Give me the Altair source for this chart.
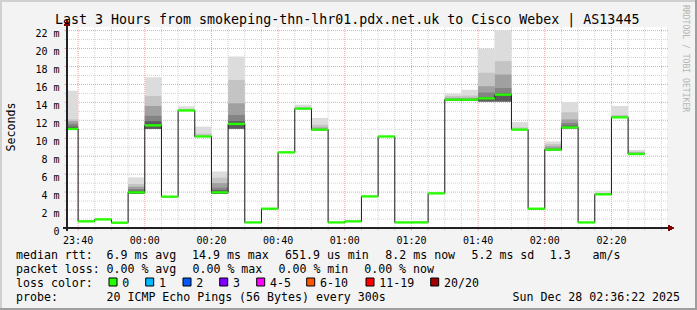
import altair as alt
import pandas as pd

# ---------------- data ----------------
medians = [11.04, 0.74, 0.96, 0.59, 3.97, 11.44, 3.49, 13.1, 10.2, 3.97,
           11.6, 0.62, 2.15, 8.43, 13.3, 10.96, 0.62, 0.74, 3.52, 10.2,
           0.62, 0.62, 3.86, 14.3, 14.3, 14.45, 14.86, 10.96, 2.15, 8.73,
           11.2, 0.62, 3.75, 12.33, 8.25]
smoke_lo = [10.95, 0.74, 0.96, 0.59, 3.82, 11.05, 3.49, 13.1, 10.15, 3.8,
            11.07, 0.62, 2.15, 8.43, 13.3, 10.9, 0.62, 0.74, 3.52, 10.2,
            0.62, 0.62, 3.86, 14.2, 14.2, 14.1, 14.1, 10.96, 2.15, 8.65,
            11.1, 0.62, 3.75, 12.33, 8.25]
smoke_1 = [11.3, 0.74, 0.96, 0.59, 4.15, 11.9, 3.49, 13.1, 10.2, 4.2,
           11.9, 0.62, 2.15, 8.43, 13.3, 10.96, 0.62, 0.74, 3.52, 10.2,
           0.62, 0.62, 3.86, 14.3, 14.3, 14.6, 15.0, 10.96, 2.15, 8.8,
           11.4, 0.62, 3.75, 12.33, 8.25]
smoke_2 = [11.6, 0.74, 0.96, 0.59, 4.35, 12.5, 3.49, 13.1, 10.2, 4.5,
           12.6, 0.62, 2.15, 8.43, 13.3, 11.0, 0.62, 0.74, 3.52, 10.2,
           0.62, 0.62, 3.86, 14.4, 14.4, 15.1, 15.6, 10.96, 2.15, 8.9,
           11.7, 0.62, 3.75, 12.33, 8.3]
smoke_3 = [11.9, 0.74, 0.96, 0.59, 4.6, 13.6, 3.49, 13.1, 10.25, 5.0,
           13.9, 0.62, 2.15, 8.43, 13.3, 11.2, 0.62, 0.74, 3.52, 10.2,
           0.62, 0.62, 3.86, 14.5, 14.5, 15.8, 17.1, 11.0, 2.15, 9.1,
           12.1, 0.62, 3.8, 12.4, 8.4]
smoke_4 = [12.1, 0.74, 0.96, 0.59, 4.9, 14.7, 3.49, 13.25, 10.5, 5.6,
           16.5, 0.62, 2.15, 8.43, 13.5, 11.5, 0.62, 0.74, 3.52, 10.2,
           0.62, 0.68, 3.86, 14.7, 14.75, 17.3, 18.6, 11.2, 2.15, 9.35,
           12.9, 0.62, 3.9, 12.6, 8.5]
smoke_max = [15.3, 0.74, 0.96, 0.59, 5.64, 16.8, 3.49, 13.56, 11.3, 6.3,
             19.1, 0.62, 2.15, 8.43, 13.75, 12.26, 0.62, 0.74, 3.52, 10.2,
             0.62, 0.78, 3.86, 14.97, 15.4, 20.0, 22.0, 11.8, 2.15, 9.65,
             14.04, 0.62, 4.16, 13.6, 8.7]

first_bar = "2025-12-27 23:35:00"
step = "5min"

x_tick_labels = ["23:40", "00:00", "00:20", "00:40", "01:00", "01:20", "01:40", "02:00", "02:20"]
y_tick_values = [0, 2, 4, 6, 8, 10, 12, 14, 16, 18, 20, 22]
y_tick_text = ["0\u00a0\u00a0", "2 m", "4 m", "6 m", "8 m", "10 m", "12 m",
               "14 m", "16 m", "18 m", "20 m", "22 m"]

title_text = "Last 3 Hours from smokeping-thn-lhr01.pdx.net.uk to Cisco Webex | AS13445"
legend_line1 = ["median rtt:", "6.9 ms avg", "14.9 ms max", "651.9 us min",
                "8.2 ms now", "5.2 ms sd", "1.3", "am/s"]
legend_line2 = ["packet loss:", "0.00 % avg", "0.00 % max", "0.00 % min", "0.00 % now"]
loss_labels = ["0", "1", "2", "3", "4-5", "6-10", "11-19", "20/20"]
loss_colors = ["#26ff00", "#00b8ff", "#0059ff", "#7e00ff", "#ff00ff", "#ff5500", "#ff0000", "#a10000"]
probe_text = "20 ICMP Echo Pings (56 Bytes) every 300s"
date_text = "Sun Dec 28 02:36:22 2025"

# ---------------- layout ----------------
OX, OY = 67, 27          # plot origin in page pixels
W, H = 600, 201          # plot area
MONO = "DejaVu Sans Mono"

def rx(v):
    return v - OX

def ry(v):
    return v - OY

n = len(medians)
starts = pd.date_range(first_bar, periods=n, freq=step)
ends = starts + pd.Timedelta(step)
fmt = "%Y-%m-%dT%H:%M:%S"

x_dom = [alt.DateTime(year=2025, month=12, date=27, hours=23, minutes=36, seconds=40),
         alt.DateTime(year=2025, month=12, date=28, hours=2, minutes=36, seconds=40)]
xs = alt.Scale(domain=x_dom)
ys = alt.Scale(domain=[0, 22.4], nice=False, zero=False)

bars = pd.DataFrame({"start": starts.strftime(fmt), "end": ends.strftime(fmt), "median": medians})

# smoke bands, light (outer) first
rows = []
for lvl, tops in [("l5", smoke_max), ("l4", smoke_4), ("l3", smoke_3), ("l2", smoke_2), ("l1", smoke_1)]:
    for i in range(n):
        if tops[i] > smoke_lo[i]:
            rows.append({"start": bars.start[i], "end": bars.end[i], "lo": smoke_lo[i],
                         "hi": tops[i], "level": lvl})
smoke_df = pd.DataFrame(rows)

line_df = pd.DataFrame({"t": list(bars.start) + [bars.end.iloc[-1]],
                        "median": medians + [medians[-1]]})

# grid positions
grid_t = pd.date_range("2025-12-27 23:40:00", "2025-12-28 02:35:00", freq="5min")
vgrid = pd.DataFrame({"t": grid_t.strftime(fmt),
                      "kind": ["major" if m % 20 == 0 else "minor" for m in grid_t.minute]})
vgrid = vgrid.sort_values("kind", ascending=False)
hgrid = pd.DataFrame({"v": list(range(1, 23)),
                      "kind": ["major" if v % 2 == 0 else "minor" for v in range(1, 23)]})
hgrid = hgrid.sort_values("kind", ascending=False)
grid_color = alt.Color("kind:N", scale=alt.Scale(domain=["minor", "major"],
                                                  range=["#d2d2d2", "#f0a4a4"]), legend=None)

xlab = pd.DataFrame({"t": pd.date_range("2025-12-27 23:40:00", periods=len(x_tick_labels),
                                        freq="20min").strftime(fmt),
                     "text": x_tick_labels})
ylab = pd.DataFrame({"v": y_tick_values, "text": y_tick_text})

# ---------------- layers ----------------
frame_df = pd.DataFrame([
    {"x": rx(0), "x2": rx(697), "y": ry(1), "y2": ry(1), "c": "#d0d0d0"},
    {"x": rx(1), "x2": rx(1), "y": ry(0), "y2": ry(310), "c": "#d0d0d0"},
    {"x": rx(696), "x2": rx(696), "y": ry(0), "y2": ry(310), "c": "#9e9e9e"},
    {"x": rx(0), "x2": rx(697), "y": ry(309), "y2": ry(309), "c": "#9e9e9e"},
])
frame = alt.Chart(frame_df).mark_rule(strokeWidth=2).encode(
    x=alt.X("x:Q", scale=None), x2="x2:Q", y=alt.Y("y:Q", scale=None), y2="y2:Q",
    color=alt.Color("c:N", scale=None))

vgrid_l = alt.Chart(vgrid).mark_rule(strokeDash=[1, 1], strokeWidth=1).encode(
    x=alt.X("t:T", scale=xs, axis=None), y=alt.value(0), y2=alt.value(H), color=grid_color)
vtick_l = alt.Chart(vgrid).mark_rule(strokeWidth=1).encode(
    x=alt.X("t:T", scale=xs, axis=None), y=alt.value(H), y2=alt.value(H + 2.5), color=grid_color)
hgrid_l = alt.Chart(hgrid).mark_rule(strokeDash=[1, 1], strokeWidth=1).encode(
    y=alt.Y("v:Q", scale=ys, axis=None), x=alt.value(0), x2=alt.value(W + 2), color=grid_color)
htick_l = alt.Chart(hgrid).mark_rule(strokeWidth=1).encode(
    y=alt.Y("v:Q", scale=ys, axis=None), x=alt.value(-2.5), x2=alt.value(0), color=grid_color)

smoke = alt.Chart(smoke_df).mark_rect(clip=True).encode(
    x=alt.X("start:T", scale=xs, axis=None), x2="end:T",
    y=alt.Y("lo:Q", scale=ys, axis=None), y2="hi:Q",
    fill=alt.Fill("level:N", legend=None,
                  scale=alt.Scale(domain=["l5", "l4", "l3", "l2", "l1"],
                                  range=["#dcdcdc", "#c4c4c4", "#a0a0a0", "#848484", "#5a5a5a"])))

median_line = alt.Chart(line_df).mark_line(interpolate="step-after", color="#1a1a1a",
                                           strokeWidth=1, clip=True).encode(
    x=alt.X("t:T", scale=xs, axis=None), y=alt.Y("median:Q", scale=ys, axis=None))

green = alt.Chart(bars).transform_calculate(
    a="datum.median - 0.13", b="datum.median + 0.13"
).mark_rect(color=loss_colors[0], clip=True).encode(
    x=alt.X("start:T", scale=xs, axis=None), x2="end:T",
    y=alt.Y("a:Q", scale=ys, axis=None), y2="b:Q")

x_axis = alt.Chart(bars).mark_rule(color="#222222", strokeWidth=1).encode(
    x=alt.value(-4), x2=alt.value(W + 3), y=alt.value(H))
y_axis = alt.Chart(bars).mark_rule(color="#222222", strokeWidth=1).encode(
    x=alt.value(0), y=alt.value(H + 3), y2=alt.value(-3))
arrow_r = alt.Chart(bars).mark_point(shape="triangle-right", filled=True, size=32,
                                     color="#800000", opacity=1).encode(
    x=alt.value(W + 4), y=alt.value(H))
arrow_u = alt.Chart(bars).mark_point(shape="triangle-up", filled=True, size=32,
                                     color="#800000", opacity=1).encode(
    x=alt.value(0), y=alt.value(-4))

xlab_l = alt.Chart(xlab).mark_text(font=MONO, fontSize=10, align="center", color="black").encode(
    x=alt.X("t:T", scale=xs, axis=None), y=alt.value(H + 13.3), text="text:N")
ylab_l = alt.Chart(ylab).mark_text(font=MONO, fontSize=10, align="right", dy=3.6,
                                   color="black").encode(
    y=alt.Y("v:Q", scale=ys, axis=None), x=alt.value(rx(59.5)), text="text:N")

# free text (page coordinates converted to plot coordinates)
L1 = [16, 106.5, 192, 285, 385.3, 471.5, 549.7, 592.5]
L2 = [16, 106.5, 192.5, 278.5, 364.2]
SQ = [109, 145.7, 183, 219.7, 256.7, 306.7, 366, 430.7]
texts = [{"x": 55, "y": 24, "text": title_text, "size": 13.3, "color": "#000000"}]
texts += [{"x": a, "y": 258.5, "text": t, "size": 11.6, "color": "#000000"} for a, t in zip(L1, legend_line1)]
texts += [{"x": a, "y": 272.5, "text": t, "size": 11.6, "color": "#000000"} for a, t in zip(L2, legend_line2)]
texts += [{"x": 16, "y": 286.5, "text": "loss color:", "size": 11.6, "color": "#000000"}]
texts += [{"x": a + 13.3, "y": 286.5, "text": t, "size": 11.6, "color": "#000000"} for a, t in zip(SQ, loss_labels)]
texts += [{"x": 16, "y": 300.5, "text": "probe:", "size": 11.6, "color": "#000000"},
          {"x": 106.5, "y": 300.5, "text": probe_text, "size": 11.6, "color": "#000000"},
          {"x": 512.5, "y": 300.5, "text": date_text, "size": 11.6, "color": "#000000"}]
text_df = pd.DataFrame(texts)
text_df["x"] = text_df["x"].map(rx)
text_df["y"] = text_df["y"].map(ry)

def free_text(df, angle=0):
    return alt.Chart(df).mark_text(font=MONO, align="left", baseline="alphabetic", angle=angle).encode(
        x=alt.X("x:Q", scale=None), y=alt.Y("y:Q", scale=None), text="text:N",
        size=alt.Size("size:Q", scale=None), color=alt.Color("color:N", scale=None))

texts_l = free_text(text_df)
seconds_l = free_text(pd.DataFrame([{"x": rx(15), "y": ry(151.5), "text": "Seconds",
                                     "size": 11.6, "color": "#000000"}]), angle=270)
rrd_l = free_text(pd.DataFrame([{"x": rx(683), "y": ry(5), "text": "RRDTOOL / TOBI OETIKER",
                                 "size": 8.1, "color": "#b4b4b4"}]), angle=90)

sq_df = pd.DataFrame({"x": [rx(a) for a in SQ], "x2": [rx(a + 8) for a in SQ],
                      "y": [ry(278)] * len(SQ), "y2": [ry(286)] * len(SQ), "c": loss_colors})
squares = alt.Chart(sq_df).mark_rect(stroke="black", strokeWidth=1).encode(
    x=alt.X("x:Q", scale=None), x2="x2:Q", y=alt.Y("y:Q", scale=None), y2="y2:Q",
    fill=alt.Fill("c:N", scale=None))

chart = alt.layer(
    frame, vgrid_l, hgrid_l, vtick_l, htick_l, smoke, median_line, green,
    x_axis, y_axis, arrow_r, arrow_u, xlab_l, ylab_l, texts_l, seconds_l, rrd_l, squares
).resolve_scale(
    color="independent", fill="independent"
).properties(
    width=W, height=H,
    padding={"left": OX, "top": OY, "right": 697 - OX - W, "bottom": 310 - OY - H},
    autosize=alt.AutoSizeParams(type="none"),
    background="#f3f3f3",
).configure_view(fill="white", stroke=None)

chart.save("out.html", embed_options={"renderer": "svg", "actions": False})
